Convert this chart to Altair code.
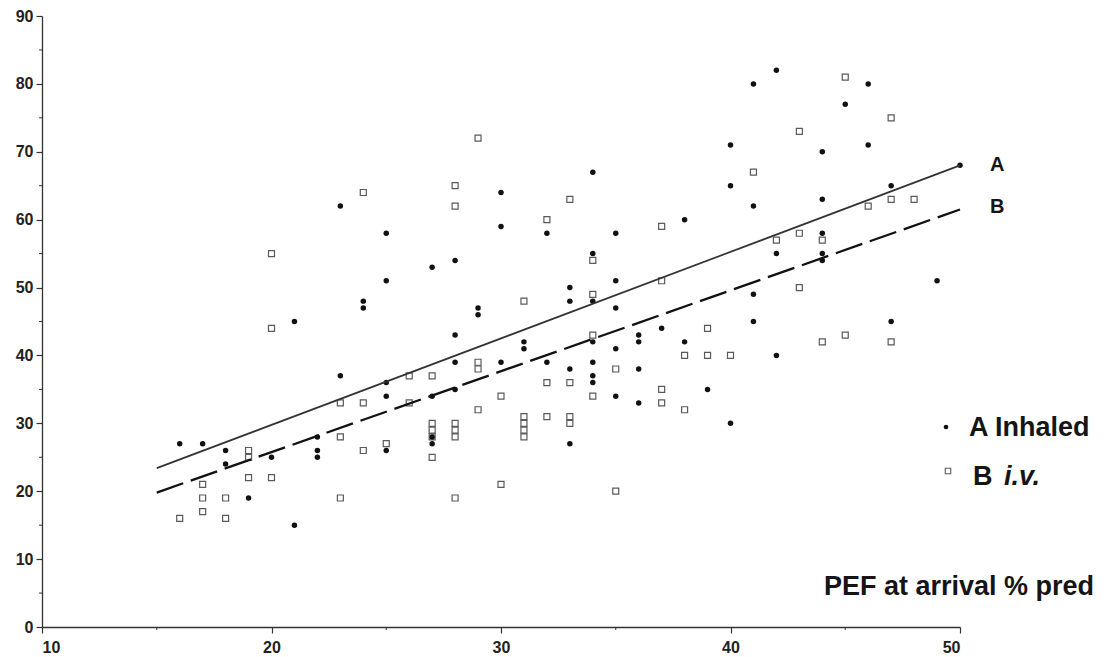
import altair as alt
import pandas as pd

# ---- data ----
# A: inhaled (filled dots)
a_x = [16, 17, 18, 18, 19, 20, 21, 21, 22, 22, 22, 23, 23, 24, 24, 25, 25, 25, 25, 25,
       27, 27, 27, 27, 28, 28, 28, 28, 29, 29, 30, 30, 30, 31, 31, 32, 32, 33, 33, 33, 33,
       34, 34, 34, 34, 34, 34, 34, 35, 35, 35, 35, 35, 36, 36, 36, 36, 37, 38, 38, 39,
       40, 40, 40, 41, 41, 41, 41, 42, 42, 42, 44, 44, 44, 44, 44, 45, 46, 46, 47, 47, 49, 50]
a_y = [27, 27, 26, 24, 19, 25, 15, 45, 28, 26, 25, 62, 37, 48, 47, 58, 51, 36, 34, 26,
       53, 34, 28, 27, 54, 43, 39, 35, 47, 46, 64, 59, 39, 42, 41, 58, 39, 50, 48, 38, 27,
       67, 55, 48, 42, 39, 37, 36, 58, 51, 47, 41, 34, 43, 42, 38, 33, 44, 60, 42, 35,
       71, 65, 30, 80, 62, 49, 45, 82, 55, 40, 70, 63, 58, 55, 54, 77, 80, 71, 65, 45, 51, 68]

# B: i.v. (open squares)
b_x = [16, 17, 17, 17, 18, 18, 19, 19, 19, 20, 20, 20, 23, 23, 23, 24, 24, 24, 25,
       26, 26, 27, 27, 27, 27, 27, 28, 28, 28, 28, 28, 28, 29, 29, 29, 29, 30, 30,
       31, 31, 31, 31, 31, 32, 32, 32, 33, 33, 33, 33, 34, 34, 34, 34, 35, 35,
       37, 37, 37, 37, 38, 38, 39, 39, 40, 41, 42, 43, 43, 43, 44, 44, 45, 45,
       46, 47, 47, 47, 48]
b_y = [16, 21, 19, 17, 19, 16, 26, 25, 22, 55, 44, 22, 33, 28, 19, 64, 33, 26, 27,
       37, 33, 37, 30, 29, 28, 25, 65, 62, 30, 29, 28, 19, 72, 39, 38, 32, 34, 21,
       48, 31, 30, 29, 28, 60, 36, 31, 63, 36, 31, 30, 54, 49, 43, 34, 38, 20,
       59, 51, 35, 33, 40, 32, 44, 40, 40, 67, 57, 73, 58, 50, 57, 42, 81, 43,
       62, 75, 63, 42, 63]

# regression lines (end points)
fit_x = [15, 50]
fit_a = [23.4, 68.0]
fit_b = [19.8, 61.5]

x_ticks = [10, 20, 30, 40, 50]
y_ticks = [0, 10, 20, 30, 40, 50, 60, 70, 80, 90]
x_minor = [15, 25, 35, 45]
y_minor = [5, 15, 25, 35, 45, 55, 65, 75, 85]

# ---- chart ----
W, H = 918, 611
FONT = "Liberation Sans"
AX = "#333333"

xs = alt.Scale(domain=[10, 50], nice=False, zero=False)
ys = alt.Scale(domain=[0, 90], nice=False, zero=False)

dfA = pd.DataFrame({"x": a_x, "y": a_y})
dfB = pd.DataFrame({"x": b_x, "y": b_y})
dfFit = pd.DataFrame({"x": fit_x, "ya": fit_a, "yb": fit_b})

x_axis = alt.Axis(values=x_ticks, title=None, grid=False, labelPadding=6, format="d")
y_axis = alt.Axis(values=y_ticks, title=None, grid=False, labelPadding=3, format="d")

pts_b = alt.Chart(dfB).mark_point(shape="square", filled=False, size=36, color="#5a5a5a",
                                  strokeWidth=1.2, opacity=1).encode(
    x=alt.X("x:Q", scale=xs, axis=x_axis),
    y=alt.Y("y:Q", scale=ys, axis=y_axis),
)
pts_a = alt.Chart(dfA).mark_circle(size=30, color="#111", opacity=1).encode(
    x=alt.X("x:Q", scale=xs, axis=x_axis),
    y=alt.Y("y:Q", scale=ys, axis=y_axis),
)
line_a = alt.Chart(dfFit).mark_line(color="#333", strokeWidth=1.7).encode(
    x=alt.X("x:Q", scale=xs, axis=x_axis),
    y=alt.Y("ya:Q", scale=ys, axis=y_axis),
)
line_b = alt.Chart(dfFit).mark_line(color="#111", strokeWidth=2.3, strokeDash=[28, 8]).encode(
    x=alt.X("x:Q", scale=xs, axis=x_axis),
    y=alt.Y("yb:Q", scale=ys, axis=y_axis),
)

ymin = alt.Chart(pd.DataFrame({"v": y_minor})).mark_rule(color=AX, strokeWidth=1).encode(
    y=alt.Y("v:Q", scale=ys, axis=y_axis), x=alt.value(-3), x2=alt.value(0))
xmin = alt.Chart(pd.DataFrame({"v": x_minor})).mark_rule(color=AX, strokeWidth=1).encode(
    x=alt.X("v:Q", scale=xs, axis=x_axis), y=alt.value(H), y2=alt.value(H + 3))


def label(text, x, y, size, align="left", style="normal"):
    return alt.Chart(pd.DataFrame({"t": [text]})).mark_text(
        font=FONT, fontSize=size, fontWeight="bold", fontStyle=style, align=align,
        baseline="middle", color="#151515").encode(
        x=alt.value(x), y=alt.value(y), text="t:N")


lab_a = label("A", 948, 149, 20)
lab_b = label("B", 948, 191, 20)
leg_a = label("A Inhaled", 927, 412, 27)
leg_b1 = label("B", 931, 461, 27)
leg_b2 = label("i.v.", 962, 461, 27, style="italic")
xtitle = label("PEF at arrival % pred", 1052, 571, 27, align="right")

sym_a = alt.Chart(pd.DataFrame({"k": [1]})).mark_circle(size=22, color="#111", opacity=1).encode(
    x=alt.value(904), y=alt.value(411))
sym_b = alt.Chart(pd.DataFrame({"k": [1]})).mark_point(shape="square", filled=False, size=30,
                                                       color="#5a5a5a", strokeWidth=1.1, opacity=1).encode(
    x=alt.value(906), y=alt.value(455))

chart = alt.layer(
    pts_b, pts_a, line_a, line_b, ymin, xmin,
    lab_a, lab_b, leg_a, leg_b1, leg_b2, xtitle, sym_a, sym_b,
).properties(
    width=W, height=H,
    autosize=alt.AutoSizeParams(type="none"),
    padding={"left": 42, "top": 16, "right": 152, "bottom": 30},
).configure_view(stroke=None).configure_axis(
    domainColor=AX, domainWidth=1.3, tickColor=AX, tickSize=6, tickWidth=1.2,
    labelFont=FONT, labelFontSize=16, labelFontWeight="bold", labelColor="#222",
)

chart.save("out.html", embed_options={"renderer": "svg", "actions": False})
